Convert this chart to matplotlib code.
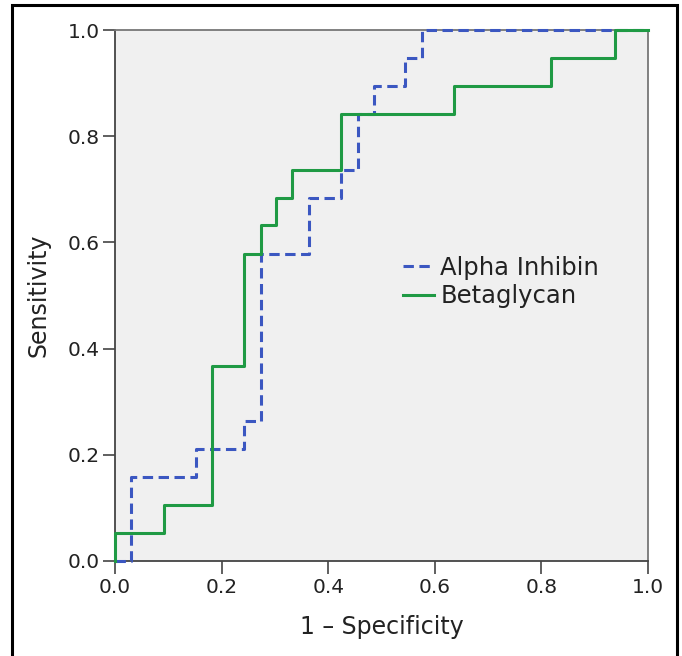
import matplotlib
matplotlib.use("Agg")
import matplotlib.pyplot as plt
from matplotlib.patches import Rectangle

# ROC points (1 - specificity, sensitivity), step-post vertices
alpha_fpr = [0.000, 0.030, 0.152, 0.242, 0.273, 0.364, 0.424, 0.455, 0.485, 0.545, 0.576, 1.000]
alpha_tpr = [0.000, 0.158, 0.211, 0.263, 0.579, 0.684, 0.737, 0.842, 0.895, 0.947, 1.000, 1.000]

beta_fpr = [0.000, 0.000, 0.091, 0.182, 0.242, 0.273, 0.303, 0.333, 0.424, 0.636, 0.818, 0.939, 1.000]
beta_tpr = [0.000, 0.053, 0.105, 0.368, 0.579, 0.632, 0.684, 0.737, 0.842, 0.895, 0.947, 1.000, 1.000]

series_labels = ["Alpha Inhibin", "Betaglycan"]
ticks = [0.0, 0.2, 0.4, 0.6, 0.8, 1.0]
tick_labels = ["0.0", "0.2", "0.4", "0.6", "0.8", "1.0"]

plt.rcParams['font.family'] = ['DejaVu Sans']

fig = plt.figure(figsize=(6.82, 6.56), dpi=100)
ax = fig.add_axes([115/682, 1 - 561/656, (648-115)/682, (561-30)/656])
ax.set_facecolor('#f0f0f0')

blue = '#3b57c1'
green = '#1f9a44'

ax.plot(alpha_fpr, alpha_tpr, drawstyle='steps-post', color=blue, lw=2.2,
        linestyle=(0, (3.4, 1.8)), label=series_labels[0], clip_on=False, zorder=3)
ax.plot(beta_fpr, beta_tpr, drawstyle='steps-post', color=green, lw=2.2,
        label=series_labels[1], clip_on=False, zorder=3)

ax.set_xlim(0, 1)
ax.set_ylim(0, 1)
ax.set_xticks(ticks)
ax.set_xticklabels(tick_labels)
ax.set_yticks(ticks)
ax.set_yticklabels(tick_labels)
ax.tick_params(direction='out', length=9, width=1.2, color='#444444',
               labelsize=14.5, labelcolor='#222222', pad=2)
ax.tick_params(axis='x', pad=3)

for s in ['left', 'bottom']:
    ax.spines[s].set_color('#444444')
    ax.spines[s].set_linewidth(1.3)
for s in ['top', 'right']:
    ax.spines[s].set_color('#777777')
    ax.spines[s].set_linewidth(1.3)

ax.set_xlabel("1 \u2013 Specificity", fontsize=17, color='#222222', labelpad=13)
ax.set_ylabel("Sensitivity", fontsize=17, color='#222222', labelpad=12)

leg = ax.legend(loc='center left', bbox_to_anchor=(0.54, 0.5255), frameon=False,
                fontsize=17.5, handlelength=1.3, handletextpad=0.25,
                labelspacing=0.2, borderpad=0, borderaxespad=0)
for t in leg.get_texts():
    t.set_color('#222222')

fig.patches.append(Rectangle((12/682, -0.02), (677-12)/682, 1.02 - 5/656,
                             transform=fig.transFigure, fill=False,
                             edgecolor='black', linewidth=2.2))

fig.savefig("out.png", dpi=100)
